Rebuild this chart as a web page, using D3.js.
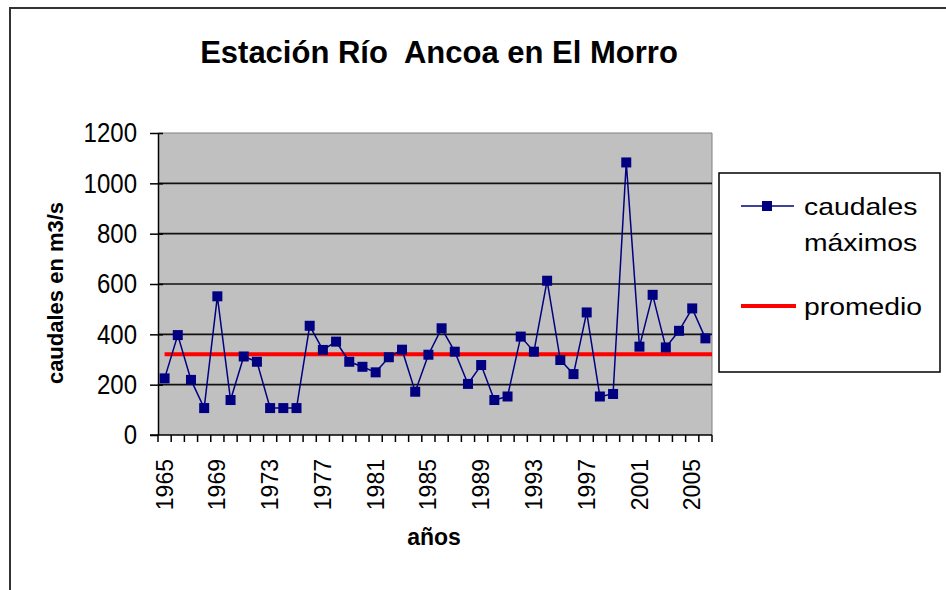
<!DOCTYPE html>
<html>
<head>
<meta charset="utf-8">
<script src="https://cdn.jsdelivr.net/npm/d3@7"></script>
<style>
  body { margin: 0; background: #fff; }
  svg { display: block; font-family: "Liberation Sans", Arial, sans-serif; }
</style>
</head>
<body>
<svg id="chart"></svg>
<script>
const width = 946;
const height = 590;

// Datos
const years = ["1965","1966","1967","1968","1969","1970","1971","1972","1973","1974",
  "1975","1976","1977","1978","1979","1980","1981","1982","1983","1984",
  "1985","1986","1987","1988","1989","1990","1991","1992","1993","1994",
  "1995","1996","1997","1998","1999","2000","2001","2002","2003","2004",
  "2005","2006"];
const caudales = [225, 397, 219, 107, 551, 139, 312, 291, 107, 107,
  107, 434, 338, 371, 291, 271, 249, 309, 339, 172,
  319, 424, 331, 203, 278, 139, 153, 391, 331, 613,
  298, 242, 487, 153, 163, 1083, 351, 557, 348, 414,
  503, 384];
const promedio = 321;
const tickYears = ["1965","1969","1973","1977","1981","1985","1989","1993","1997","2001","2005"];
const yTicks = [0, 200, 400, 600, 800, 1000, 1200];

const svg = d3.select("#chart")
  .attr("width", width)
  .attr("height", height);

// marco exterior
svg.append("rect")
  .attr("x", 10).attr("y", 8)
  .attr("width", 1000).attr("height", 1000)
  .attr("fill", "none")
  .attr("stroke", "#333")
  .attr("stroke-width", 2);

// Escalas
const x = d3.scaleBand().domain(years).range([158, 712]);
const y = d3.scaleLinear().domain([0, 1200]).range([435, 133]);
const cx = d => x(d) + x.bandwidth() / 2;

// Fondo del área de trazado
svg.append("rect")
  .attr("x", 158).attr("y", y(1200))
  .attr("width", 712 - 158).attr("height", y(0) - y(1200))
  .attr("fill", "#c0c0c0");

// borde superior y derecho
svg.append("path")
  .attr("d", `M158,${y(1200)}H712V${y(0)}`)
  .attr("fill", "none")
  .attr("stroke", "#808080")
  .attr("stroke-width", 1);

// líneas de cuadrícula
svg.append("g")
  .selectAll("line")
  .data(yTicks.filter(v => v > 0 && v < 1200))
  .join("line")
  .attr("x1", 158).attr("x2", 712)
  .attr("y1", d => y(d)).attr("y2", d => y(d))
  .attr("stroke", "#111")
  .attr("stroke-width", 1.6);

// Eje Y
const yAxis = svg.append("g")
  .attr("transform", "translate(158,0)")
  .call(d3.axisLeft(y).tickValues(yTicks).tickFormat(d3.format("d"))
    .tickSize(8).tickSizeOuter(0).tickPadding(13));
yAxis.select(".domain").attr("stroke", "#000").attr("stroke-width", 1.5);
yAxis.selectAll(".tick line").attr("stroke", "#000").attr("stroke-width", 1.5).attr("x2", -8).attr("x1", 5);
yAxis.selectAll(".tick text")
  .attr("font-size", 24)
  .attr("fill", "#000")
  .attr("transform", "scale(1,1.15)");
yAxis.selectAll(".tick").filter(d => d === 0).select("line").attr("x1", 0);

// Eje X
svg.append("line")
  .attr("x1", 150).attr("x2", 712)
  .attr("y1", y(0)).attr("y2", y(0))
  .attr("stroke", "#000").attr("stroke-width", 1.5);

const bounds = years.map(d => x(d)).concat([x.range()[1]]);
svg.append("g")
  .selectAll("line")
  .data(bounds)
  .join("line")
  .attr("x1", d => d).attr("x2", d => d)
  .attr("y1", y(0)).attr("y2", y(0) + 7)
  .attr("stroke", "#000")
  .attr("stroke-width", 1.5);

svg.append("g")
  .selectAll("text")
  .data(tickYears)
  .join("text")
  .attr("transform", d => `translate(${cx(d)},459) rotate(-90)`)
  .attr("text-anchor", "end")
  .attr("dy", "0.35em")
  .attr("font-size", 23)
  .attr("fill", "#000")
  .text(d => d);

// Serie promedio
svg.append("line")
  .attr("x1", cx(years[0])).attr("x2", x.range()[1])
  .attr("y1", y(promedio)).attr("y2", y(promedio))
  .attr("stroke", "#ff0000")
  .attr("stroke-width", 4);

// Serie caudales máximos
const serie = years.map((d, i) => ({ year: d, value: caudales[i] }));

svg.append("path")
  .datum(serie)
  .attr("fill", "none")
  .attr("stroke", "#000080")
  .attr("stroke-width", 1.5)
  .attr("d", d3.line().x(d => cx(d.year)).y(d => y(d.value)));

const m = 10;
svg.append("g")
  .selectAll("rect")
  .data(serie)
  .join("rect")
  .attr("x", d => cx(d.year) - m / 2)
  .attr("y", d => y(d.value) - m / 2)
  .attr("width", m).attr("height", m)
  .attr("fill", "#000080");

// Título
svg.append("text")
  .attr("x", 439).attr("y", 63)
  .attr("text-anchor", "middle")
  .attr("font-size", 31)
  .attr("font-weight", "bold")
  .style("white-space", "pre")
  .text("Estación Río  Ancoa en El Morro");

// Títulos de ejes
svg.append("text")
  .attr("transform", "translate(63,293) rotate(-90)")
  .attr("text-anchor", "middle")
  .attr("font-size", 22)
  .attr("font-weight", "bold")
  .text("caudales en m3/s");

svg.append("text")
  .attr("x", 434).attr("y", 545)
  .attr("text-anchor", "middle")
  .attr("font-size", 23)
  .attr("font-weight", "bold")
  .text("años");

// Leyenda
const legend = svg.append("g");
legend.append("rect")
  .attr("x", 719).attr("y", 173)
  .attr("width", 221).attr("height", 199)
  .attr("fill", "#fff")
  .attr("stroke", "#000")
  .attr("stroke-width", 1.5);

legend.append("line")
  .attr("x1", 741).attr("x2", 794)
  .attr("y1", 206).attr("y2", 206)
  .attr("stroke", "#000080").attr("stroke-width", 1.5);
legend.append("rect")
  .attr("x", 767 - m / 2).attr("y", 206 - m / 2)
  .attr("width", m).attr("height", m)
  .attr("fill", "#000080");
legend.append("line")
  .attr("x1", 741).attr("x2", 796)
  .attr("y1", 306).attr("y2", 306)
  .attr("stroke", "#ff0000").attr("stroke-width", 4);

const legendTexts = [
  { t: "caudales", y: 215 },
  { t: "máximos", y: 251 },
  { t: "promedio", y: 315 }
];
legend.selectAll("text.lab")
  .data(legendTexts)
  .join("text")
  .attr("class", "lab")
  .attr("transform", d => `translate(804,${d.y}) scale(1.18,1)`)
  .attr("font-size", 24)
  .attr("fill", "#000")
  .text(d => d.t);
</script>
</body>
</html>
